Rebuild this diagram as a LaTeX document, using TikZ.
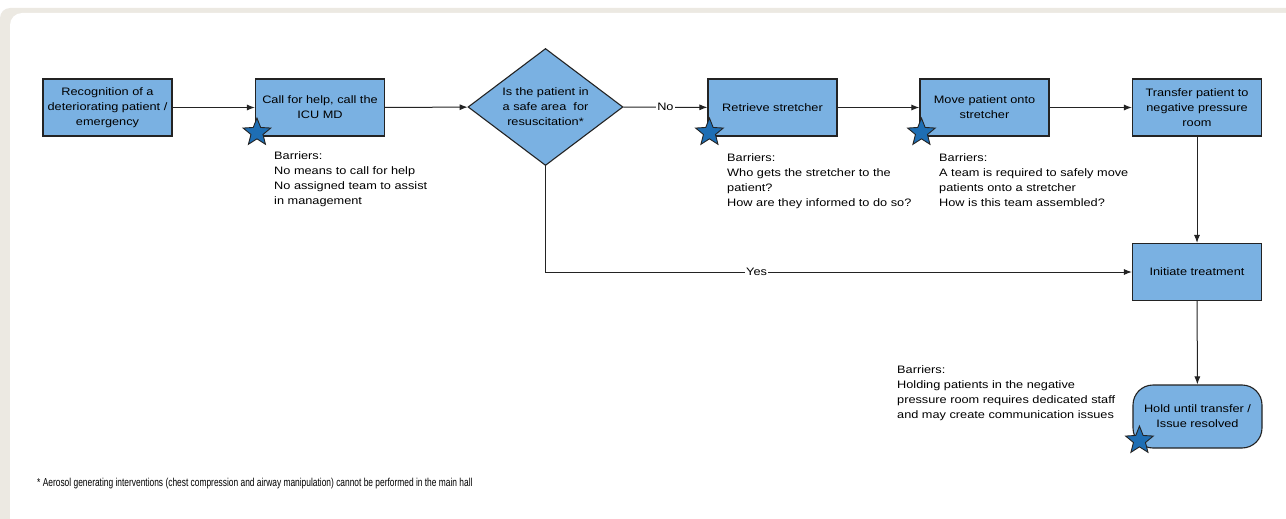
\documentclass[tikz,border=0pt]{standalone}
\usepackage{fontspec}
\setmainfont[FakeStretch=1.18]{Liberation Sans}
\newfontfamily\notefont[FakeStretch=0.73]{Liberation Sans}
\usetikzlibrary{shapes.geometric,arrows.meta}

\definecolor{boxblue}{RGB}{122,177,226}
\definecolor{starblue}{RGB}{30,110,180}
\definecolor{framegrey}{RGB}{236,233,226}
\definecolor{linegrey}{RGB}{35,35,35}

\begin{document}
\begin{tikzpicture}[x=1pt,y=-1pt,
    every node/.style={font=\fontsize{10.8}{15}\selectfont},
    box/.style={draw=linegrey,line width=1.1pt,fill=boxblue,
      minimum width=\w,minimum height=\h,align=center,inner sep=2pt},
    decision/.style={diamond,shape aspect=1.5,draw=linegrey,line width=1.1pt,fill=boxblue,
      minimum width=155pt,minimum height=117pt,inner sep=0pt,align=center},
    holdbox/.style={box,rounded corners=20pt,minimum height=63pt},
    starmark/.style={star,star points=5,star point ratio=2.3,minimum size=29pt,
      inner sep=0pt,draw=linegrey,line width=0.9pt,fill=starblue},
    arr/.style={draw=linegrey,line width=1pt,-{Latex[length=8pt,width=6pt]}},
    lab/.style={fill=white,inner sep=1pt},
    barrier/.style={anchor=north west,align=left,inner sep=0pt,
      font=\fontsize{10.8}{15.3}\selectfont}]
      \def\w{129pt}
      \def\h{57pt}

      \useasboundingbox (0,0) rectangle (1286,519);

      % frame
      \fill[framegrey,rounded corners=10pt] (0,8) rectangle (1300,540);
      \fill[white,rounded corners=12pt] (10,13) rectangle (1300,540);

      % top row
      \node[box] (rec) at (107.5,107.5) {Recognition of a\\deteriorating patient /\\emergency};
      \node[box] (call) at (320,107.5) {Call for help, call the\\ICU MD};
      \node[decision] (safe) at (545.5,107) {Is the patient in\\a safe area\ \ for\\resuscitation*};
      \node[box] (ret) at (772.5,107.5) {Retrieve stretcher};
      \node[box] (move) at (984.5,107.5) {Move patient onto\\stretcher};
      \node[box] (trans) at (1197,107.5) {Transfer patient to\\negative pressure\\room};

      % right column
      \node[box] (init) at (1197,272) {Initiate treatment};
      \node[holdbox] (hold) at (1197.5,416.5) {Hold until transfer /\\Issue resolved};

      % arrows
      \draw[arr] (rec) -- (call);
      \draw[arr] (call) -- (safe);
      \draw[arr] (safe) -- node[lab] {No} (ret);
      \draw[arr] (ret) -- (move);
      \draw[arr] (move) -- (trans);
      \draw[arr] (trans) -- (init);
      \draw[arr] (safe.south) |- node[lab,pos=0.68] {Yes} (init);
      \draw[arr] (init) -- (hold);

      % stars
      \foreach \b in {call,ret,move}
        {
          \node[starmark] at ([xshift=2pt,yshift=4pt]\b.south west) {};
        }
      \node[starmark] at ([xshift=7pt,yshift=8pt]hold.south west) {};

      % barriers
      \node[barrier] (bar1) at (274,151)
        {Barriers:\\No means to call for help\\No assigned team to assist\\in management};
      \node[barrier] (bar2) at (727,153)
        {Barriers:\\Who gets the stretcher to the\\patient?\\How are they informed to do so?};
      \node[barrier] (bar3) at (939,153)
        {Barriers:\\A team is required to safely move\\patients onto a stretcher\\How is this team assembled?};
      \node[barrier] (bar4) at (897,365)
        {Barriers:\\Holding patients in the negative\\pressure room requires dedicated staff\\and may create communication issues};

      \node[anchor=west,inner sep=0pt,font=\notefont\fontsize{11.5}{14}\selectfont] (note) at (37,484)
        {* Aerosol generating interventions (chest compression and airway manipulation) cannot be performed in the main hall};
\end{tikzpicture}
\end{document}
